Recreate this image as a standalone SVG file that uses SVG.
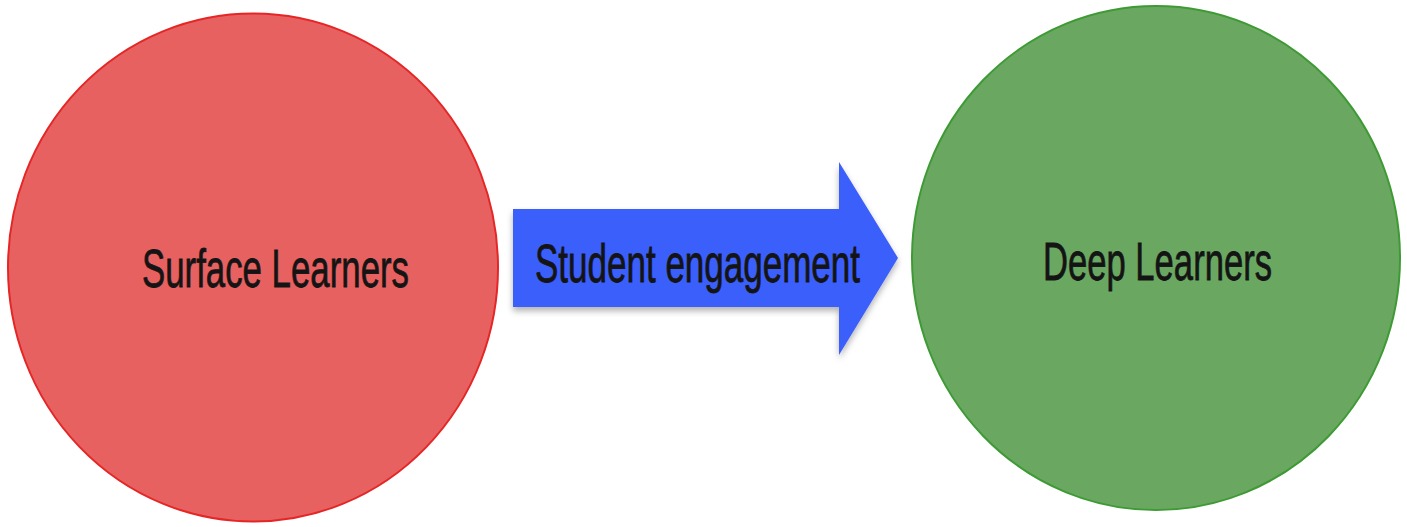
<svg xmlns="http://www.w3.org/2000/svg" width="1407" height="527" viewBox="0 0 1407 527">
<defs>
<style>
.lbl{font-family:"Liberation Sans",Arial,sans-serif;font-size:54px;fill:#141414;stroke:#141414;stroke-width:0.8px;text-anchor:start}
</style>
<filter id="sh" x="-10%" y="-10%" width="120%" height="130%">
<feDropShadow dx="0" dy="4" stdDeviation="3" flood-color="#000" flood-opacity="0.3"/>
</filter>
</defs>
<rect width="1407" height="527" fill="#ffffff"/>
<g id="surface">
<ellipse cx="253" cy="267.5" rx="245" ry="254" fill="#E86161" stroke="#E52626" stroke-width="2"/>
<text class="lbl" x="142" y="287" textLength="267" lengthAdjust="spacingAndGlyphs">Surface Learners</text>
</g>
<g id="deep">
<ellipse cx="1156" cy="258" rx="244" ry="252" fill="#6AA862" stroke="#3E9A34" stroke-width="2"/>
<text class="lbl" x="1043" y="280" textLength="229" lengthAdjust="spacingAndGlyphs">Deep Learners</text>
</g>
<g id="connectors">
<polygon points="513,209 839,209 839,162 898,258 839,355 839,307 513,307" fill="#3B5EFB" filter="url(#sh)"/>
<text class="lbl" x="535" y="282" font-size="52" textLength="325" lengthAdjust="spacingAndGlyphs">Student engagement</text>
</g>
</svg>
